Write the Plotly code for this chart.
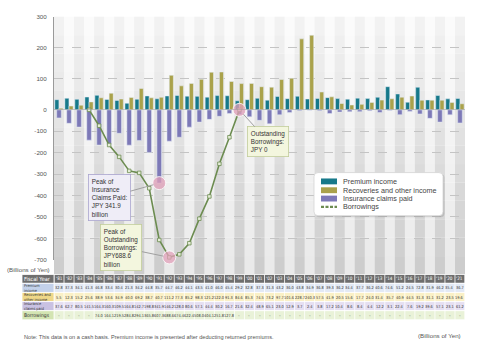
import plotly.graph_objects as go

W, H = 500, 353

years = ["'81", "'82", "'83", "'84", "'85", "'86", "'87", "'88", "'89", "'90",
         "'91", "'92", "'93", "'94", "'95", "'96", "'97", "'98", "'99", "'00",
         "'01", "'02", "'03", "'04", "'05", "'06", "'07", "'08", "'09", "'10",
         "'11", "'12", "'13", "'14", "'15", "'16", "'17", "'18", "'19", "'20", "'21"]

premium = [32.8, 37.3, 34.1, 41.3, 46.8, 33.4, 30.4, 21.3, 34.2, 44.8,
           35.7, 44.7, 46.2, 44.1, 43.5, 41.0, 46.0, 45.4, 29.2, 32.8,
           37.3, 31.3, 43.2, 36.0, 43.8, 34.9, 36.8, 39.3, 36.2, 34.4,
           37.7, 36.2, 40.6, 74.6, 51.2, 24.5, 72.8, 31.9, 46.2, 35.4, 36.7]

recoveries = [5.5, 12.3, 15.2, 25.6, 38.9, 53.6, 34.9, 40.0, 69.2, 38.7,
              40.7, 111.2, 77.3, 85.2, 98.3, 121.2, 122.0, 91.3, 84.6, 85.3,
              74.5, 73.2, 97.7, 101.6, 228.7, 240.3, 57.5, 41.9, 20.5, 15.6,
              17.7, 24.0, 31.4, 35.7, 40.9, 44.5, 31.3, 31.1, 31.2, 23.5, 19.6]

claims = [37.6, 62.7, 80.5, 141.5, 164.3, 160.3, 109.5, 164.8, 142.7, 198.8,
          341.9, 146.2, 128.0, 80.6, 57.1, 44.4, 30.2, 16.7, 21.6, 32.4,
          48.9, 65.1, 23.0, 12.9, 3.7, 2.4, 3.8, 17.2, 10.4, 8.6,
          8.4, 4.4, 12.2, 3.1, 22.4, 7.6, 19.2, 39.6, 57.1, 23.1, 61.2]

borrowings = [None, None, None, 0.0, 74.0, 164.1, 219.5, 284.8, 294.1, 365.8,
              607.3, 688.6, 674.4, 622.4, 508.0, 404.1, 251.8, 127.8, 0.0, None,
              None, None, None, None, None, None, None, None, None, None,
              None, None, None, None, None, None, None, None, None, None, None]

pos_ticks = [0, 100, 200, 300]
neg_ticks = [-700, -600, -500, -400, -300, -200, -100]

series_names = ["Premium income", "Recoveries and other income",
                "Insurance claims paid", "Borrowings"]

C_PREM = "#17798a"
C_REC = "#aaa24b"
C_CLM = "#7d79b7"
C_BOR = "#6c8c50"

n = len(years)

def py(p):
    return 1 - p / H

def px(p):
    return p / W

X0, X1 = 54, 465
Y_TOP, Y_ZERO, Y_BOT = 13, 108, 261
TBL_TOP = 276

FONT = "Liberation Sans, Arial, sans-serif"
NARROW = "Liberation Sans Narrow, DejaVu Sans Condensed, Liberation Sans, sans-serif"

fig = go.Figure()

fig.add_trace(go.Bar(x=years, y=premium, name=series_names[0], marker_color=C_PREM,
                     offset=-0.42, width=0.41, yaxis="y", xaxis="x"))
fig.add_trace(go.Bar(x=years, y=recoveries, name=series_names[1], marker_color=C_REC,
                     offset=0.0, width=0.41, yaxis="y", xaxis="x"))
fig.add_trace(go.Bar(x=years, y=[-v for v in claims], name=series_names[2], marker_color=C_CLM,
                     offset=-0.23, width=0.46, yaxis="y2", xaxis="x"))
fig.add_trace(go.Scatter(x=years, y=[(-v if v is not None else None) for v in borrowings],
                         name=series_names[3], mode="lines+markers", yaxis="y2", xaxis="x",
                         line=dict(color=C_BOR, width=1.6),
                         marker=dict(symbol="square", size=3.5, color="#e4ecd6",
                                     line=dict(color=C_BOR, width=0.8)),
                         cliponaxis=False))

ic = max(range(n), key=lambda i: claims[i])
ib = max(range(n), key=lambda i: borrowings[i] if borrowings[i] is not None else -1)
iz = max(i for i in range(n) if borrowings[i] == 0.0)
fig.add_trace(go.Scatter(x=[years[ic], years[ib], years[iz]],
                         y=[-claims[ic], -borrowings[ib], -borrowings[iz]],
                         mode="markers", yaxis="y2", xaxis="x", showlegend=False,
                         cliponaxis=False, hoverinfo="skip",
                         marker=dict(size=13, color="rgba(226,160,185,0.75)",
                                     line=dict(color="rgba(255,255,255,0.8)", width=1))))

shapes = []
NB = 14
for b in range(NB):
    ya = Y_TOP + (TBL_TOP - Y_TOP) * b / NB
    yb = Y_TOP + (TBL_TOP - Y_TOP) * (b + 1) / NB
    t = (b + 0.5) / NB
    light = int(252 - 18 * t)
    dark = int(244 - 40 * t)
    shapes.append(dict(type="rect", xref="x", yref="paper", x0=-0.5, x1=n - 0.5,
                       y0=py(yb), y1=py(ya), fillcolor=f"rgb({light},{light},{light})",
                       line_width=0, layer="below"))
    for i in range(0, n, 2):
        shapes.append(dict(type="rect", xref="x", yref="paper", x0=i - 0.5, x1=i + 0.5,
                           y0=py(yb), y1=py(ya), fillcolor=f"rgb({dark},{dark},{dark})",
                           line_width=0, layer="below"))

# table
rows = [
    ("Fiscal Year", "#6e6e6e", "#6e6e6e", years, "white"),
    ("Premium<br>income", "#c3d1ea", "#e2e9f5", [f"{v:.1f}" for v in premium], "#333"),
    ("Recoveries and<br>other income", "#efd889", "#faf0c6", [f"{v:.1f}" for v in recoveries], "#333"),
    ("Insurance<br>claims paid", "#c9c1e2", "#e5dff2", [f"{v:.1f}" for v in claims], "#333"),
    ("Borrowings", "#d3e4b2", "#e9f2d8",
     [("–" if (v is None or v == 0) else f"{v:.1f}") for v in borrowings], "#333"),
]
row_edges = [276, 285, 294.3, 303.6, 312.9, 322.2]
annotations = []
for r, (label, lc, dc, texts, tc) in enumerate(rows):
    ya, yb = row_edges[r], row_edges[r + 1]
    shapes.append(dict(type="rect", xref="paper", yref="paper", x0=px(22), x1=px(X0),
                       y0=py(yb), y1=py(ya), fillcolor=lc, line=dict(color="white", width=0.8)))
    shapes.append(dict(type="rect", xref="x", yref="paper", x0=-0.5, x1=n - 0.5,
                       y0=py(yb), y1=py(ya), fillcolor=dc, line=dict(color="white", width=0.8)))
    ym = py((ya + yb) / 2)
    lab_size = 5.6 if r == 0 else (5.0 if r == 4 else 3.9)
    annotations.append(dict(x=px(23), y=ym, xref="paper", yref="paper", text=label,
                            showarrow=False, xanchor="left", yanchor="middle", align="left",
                            borderpad=0,
                            font=dict(size=lab_size, color=tc, family=NARROW)))
    for i, t in enumerate(texts):
        annotations.append(dict(x=years[i], y=ym, xref="x", yref="paper", text=t,
                                showarrow=False, xanchor="center", yanchor="middle",
                                borderpad=0,
                                font=dict(size=3.9 if r else 4.6, color=tc, family=NARROW)))
for i in range(n + 1):
    shapes.append(dict(type="line", xref="x", yref="paper", x0=i - 0.5, x1=i - 0.5,
                       y0=py(row_edges[-1]), y1=py(row_edges[0]),
                       line=dict(color="white", width=0.8)))

shapes.append(dict(type="line", xref="x", yref="y", x0=-0.5, x1=n - 0.5, y0=0, y1=0,
                   line=dict(color="#9a9a9a", width=1)))

# custom legend
LX0, LX1, LY0, LY1 = 314, 443, 172, 216
def rrect(x0, y0, x1, y1, r):
    rx, ry = r / W, r / H
    a0, a1 = px(x0), px(x1)
    b0, b1 = py(y1), py(y0)
    return (f"M {a0+rx},{b0} L {a1-rx},{b0} Q {a1},{b0} {a1},{b0+ry} "
            f"L {a1},{b1-ry} Q {a1},{b1} {a1-rx},{b1} L {a0+rx},{b1} "
            f"Q {a0},{b1} {a0},{b1-ry} L {a0},{b0+ry} Q {a0},{b0} {a0+rx},{b0} Z")
shapes.append(dict(type="path", xref="paper", yref="paper",
                   path=rrect(LX0 + 1.5, LY0 + 1.5, LX1 + 1.5, LY1 + 1.5, 4),
                   fillcolor="rgba(0,0,0,0.12)", line_width=0))
shapes.append(dict(type="path", xref="paper", yref="paper",
                   path=rrect(LX0, LY0, LX1, LY1, 4),
                   fillcolor="white", line=dict(color="#d4d4d4", width=0.8)))
leg_rows = [181, 190, 198.5, 207]
leg_colors = [C_PREM, C_REC, C_CLM]
for k in range(3):
    yc = leg_rows[k]
    shapes.append(dict(type="rect", xref="paper", yref="paper", x0=px(321), x1=px(337),
                       y0=py(yc + 3), y1=py(yc - 3), fillcolor=leg_colors[k], line_width=0))
shapes.append(dict(type="line", xref="paper", yref="paper", x0=px(321), x1=px(337),
                   y0=py(leg_rows[3]), y1=py(leg_rows[3]),
                   line=dict(color=C_BOR, width=2.2, dash="3px,1.5px")))
for k in range(4):
    annotations.append(dict(x=px(342), y=py(leg_rows[k]), xref="paper", yref="paper",
                            text=series_names[k], showarrow=False, xanchor="left",
                            yanchor="middle", borderpad=0,
                            font=dict(size=7.2, color="#444", family=FONT)))

# callouts
annotations.append(dict(x=years[ic], y=-claims[ic], xref="x", yref="y2",
                        text=f"Peak of<br>Insurance<br>Claims Paid:<br>JPY {claims[ic]:.1f}<br>billion",
                        showarrow=True, arrowhead=0, arrowcolor="#a0a0a0", arrowwidth=1,
                        ax=-50, ay=14, standoff=6, align="left",
                        bgcolor="#efedf7", bordercolor="#aaa5cf", borderwidth=0.8, borderpad=3,
                        font=dict(size=6.3, color="#333", family=FONT)))
annotations.append(dict(x=years[ib], y=-borrowings[ib], xref="x", yref="y2",
                        text=f"Peak of<br>Outstanding<br>Borrowings:<br>JPY{borrowings[ib]:.1f}<br>billion",
                        showarrow=True, arrowhead=0, arrowcolor="#a0a0a0", arrowwidth=1,
                        ax=-48, ay=-10, standoff=6, align="left",
                        bgcolor="#f3f6de", bordercolor="#c2cd9b", borderwidth=0.8, borderpad=3,
                        font=dict(size=6.3, color="#333", family=FONT)))
annotations.append(dict(x=years[iz], y=-borrowings[iz], xref="x", yref="y2",
                        text="Outstanding<br>Borrowings:<br>JPY 0",
                        showarrow=True, arrowhead=0, arrowcolor="#a0a0a0", arrowwidth=1,
                        ax=29, ay=32, standoff=6, align="left",
                        bgcolor="#f3f6de", bordercolor="#c2cd9b", borderwidth=0.8, borderpad=3,
                        font=dict(size=6.3, color="#333", family=FONT)))

annotations.append(dict(x=px(28), y=py(271), xref="paper", yref="paper", text="(Billions of Yen)",
                        showarrow=False, xanchor="center", yanchor="middle",
                        font=dict(size=6.2, color="#555", family=FONT)))
annotations.append(dict(x=px(463), y=py(338), xref="paper", yref="paper", text="(Billions of Yen)",
                        showarrow=False, xanchor="right", yanchor="middle",
                        font=dict(size=6.2, color="#555", family=FONT)))
annotations.append(dict(x=px(22), y=py(340), xref="paper", yref="paper",
                        text="Note: This data is on a cash basis. Premium income is presented after deducting returned premiums.",
                        showarrow=False, xanchor="left", yanchor="middle",
                        font=dict(size=5.6, color="#555", family=FONT)))

fig.update_layout(
    width=W, height=H, margin=dict(l=0, r=0, t=0, b=0),
    paper_bgcolor="white", plot_bgcolor="rgba(0,0,0,0)",
    barmode="overlay", showlegend=False,
    font=dict(family=FONT, color="#444"),
    xaxis=dict(domain=[px(X0), px(X1)], anchor="y2", type="category",
               categoryorder="array", categoryarray=years,
               showticklabels=False, showgrid=False, zeroline=False, ticks="",
               range=[-0.5, n - 0.5]),
    yaxis=dict(domain=[py(Y_ZERO), py(Y_TOP)], anchor="x", range=[0, 300],
               tickvals=pos_ticks, ticktext=[str(v) for v in pos_ticks],
               showgrid=True, gridcolor="#c4c4c4", griddash="dash", gridwidth=0.6,
               zeroline=False, showline=True, linecolor="#9a9a9a", linewidth=1,
               ticks="", ticklabelstandoff=5, tickfont=dict(size=6.2, color="#555")),
    yaxis2=dict(domain=[py(Y_BOT), py(Y_ZERO)], anchor="x", range=[-700, 0],
                tickvals=neg_ticks, ticktext=[str(v) for v in neg_ticks],
                showgrid=True, gridcolor="#c4c4c4", griddash="dash", gridwidth=0.6,
                zeroline=False, showline=True, linecolor="#9a9a9a", linewidth=1,
                ticks="", ticklabelstandoff=5, tickfont=dict(size=6.2, color="#555")),
    shapes=shapes, annotations=annotations,
)

fig.write_html("out.html")
